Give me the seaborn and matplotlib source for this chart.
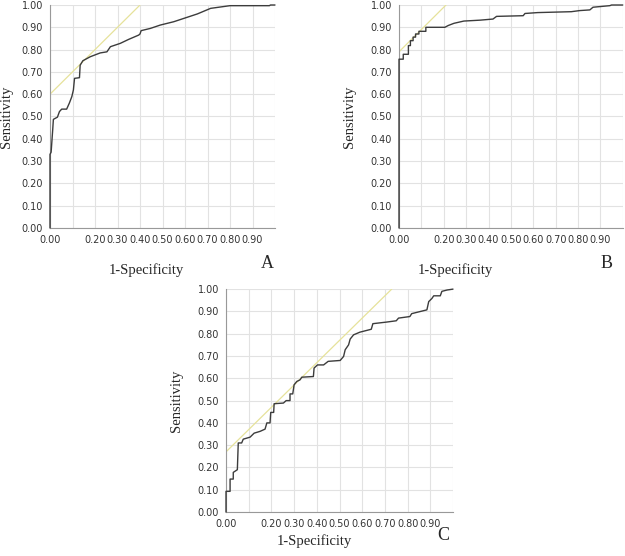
import numpy as np
import pandas as pd
import matplotlib
matplotlib.use("Agg")
import matplotlib.pyplot as plt
import seaborn as sns

# ROC curve A
a_fpr = [0, 0, 0.005, 0.012, 0.015, 0.033, 0.042, 0.052, 0.074, 0.086, 0.097, 0.104,
         0.109, 0.131, 0.134, 0.146, 0.179, 0.223, 0.253, 0.2685, 0.3125, 0.35, 0.394,
         0.40, 0.405, 0.446, 0.49, 0.55, 0.595, 0.655, 0.714, 0.80, 0.975, 0.98, 1.0]
a_tpr = [0, 0.33, 0.34, 0.44, 0.487, 0.497, 0.522, 0.533, 0.533, 0.56, 0.589, 0.619,
         0.671, 0.674, 0.73, 0.75, 0.768, 0.785, 0.79, 0.813, 0.828, 0.846, 0.865,
         0.870, 0.885, 0.895, 0.91, 0.925, 0.94, 0.96, 0.985, 0.997, 0.997, 1.0, 1.0]

# ROC curve B
b_fpr = [0, 0, 0.019, 0.019, 0.042, 0.042, 0.051, 0.051, 0.063, 0.063, 0.074, 0.074,
         0.089, 0.089, 0.12, 0.12, 0.205, 0.22, 0.246, 0.29, 0.362, 0.42, 0.436, 0.555,
         0.563, 0.62, 0.77, 0.808, 0.853, 0.867, 0.942, 0.95, 1.0]
b_tpr = [0, 0.757, 0.757, 0.779, 0.779, 0.818, 0.818, 0.84, 0.84, 0.856, 0.856, 0.87,
         0.87, 0.882, 0.882, 0.90, 0.90, 0.908, 0.918, 0.928, 0.932, 0.937, 0.949, 0.952,
         0.962, 0.966, 0.97, 0.975, 0.978, 0.99, 0.997, 1.0, 1.0]

# ROC curve C
c_fpr = [0, 0, 0.018, 0.018, 0.032, 0.032, 0.05, 0.054, 0.069, 0.076, 0.106, 0.124,
         0.15, 0.172, 0.18, 0.194, 0.197, 0.21, 0.212, 0.253, 0.265, 0.282, 0.282, 0.294,
         0.30, 0.312, 0.326, 0.334, 0.385, 0.388, 0.403, 0.43, 0.45, 0.503, 0.518, 0.525,
         0.54, 0.547, 0.562, 0.59, 0.64, 0.647, 0.706, 0.75, 0.76, 0.81, 0.818, 0.885,
         0.893, 0.907, 0.915, 0.944, 0.951, 0.974, 1.0]
c_tpr = [0, 0.093, 0.093, 0.148, 0.148, 0.178, 0.19, 0.31, 0.31, 0.327, 0.336, 0.354,
         0.362, 0.372, 0.40, 0.40, 0.447, 0.447, 0.486, 0.489, 0.50, 0.50, 0.53, 0.53,
         0.571, 0.586, 0.593, 0.605, 0.608, 0.646, 0.66, 0.66, 0.676, 0.68, 0.698, 0.728,
         0.75, 0.776, 0.795, 0.807, 0.82, 0.845, 0.852, 0.858, 0.87, 0.877, 0.89, 0.907,
         0.944, 0.958, 0.97, 0.97, 0.99, 0.996, 1.0]

# tangent (yellow) lines: intercept at x=0, reaching 1.0 at x_end
tangent_start = {'A': 0.60, 'B': 0.79, 'C': 0.27}
tangent_end = {'A': 0.40, 'B': 0.21, 'C': 0.73}

ticks = [0, 0.1, 0.2, 0.3, 0.4, 0.5, 0.6, 0.7, 0.8, 0.9, 1.0]
x_labels = ['0.00', '', '0.20', '0.30', '0.40', '0.50', '0.60', '0.70', '0.80', '0.90', '']
y_labels = ['0.00', '0.10', '0.20', '0.30', '0.40', '0.50', '0.60', '0.70', '0.80', '0.90', '1.00']

sns.set_style("white")
plt.rcParams['font.family'] = ['DejaVu Sans']

fig = plt.figure(figsize=(6.25, 5.56), dpi=100)

panels = {
    'A': ([0.08, 0.59, 0.36, 0.401], a_fpr, a_tpr, (0.43, -0.16), -0.165, (267, 264)),
    'B': ([0.6384, 0.59, 0.358, 0.401], b_fpr, b_tpr, (0.25, -0.16), -0.19, (607, 264)),
    'C': ([0.3616, 0.079, 0.3632, 0.401], c_fpr, c_tpr, (0.39, -0.10), -0.19, (443, 535)),
}

for name, (rect, fpr, tpr, xlab_pos, ylab_x, letter_pos) in panels.items():
    ax = fig.add_axes(rect)
    df = pd.DataFrame({'fpr': fpr, 'tpr': tpr})
    t0 = tangent_start[name]
    t1 = tangent_end[name]
    sns.lineplot(x=[0, t1], y=[t0, 1.0], ax=ax, color='#e6e29a', lw=0.9,
                 estimator=None, sort=False)
    sns.lineplot(data=df, x='fpr', y='tpr', ax=ax, color='#3c3c3c', lw=1.0,
                 estimator=None, sort=False, clip_on=False, zorder=5)
    ax.set_xlim(0, 1.0)
    ax.set_ylim(0, 1.0)
    ax.set_xticks(ticks)
    ax.set_xticklabels(x_labels)
    ax.set_yticks(ticks)
    ax.set_yticklabels(y_labels)
    ax.set_xticks(np.arange(0.05, 1.0, 0.1), minor=True)
    ax.set_yticks(np.arange(0.05, 1.0, 0.1), minor=True)
    ax.grid(True, which='major', color='#e2e2e2', lw=0.8)
    ax.tick_params(which='both', direction='out', color='#999999', labelsize=7,
                   labelcolor='#333333', pad=2)
    ax.tick_params(which='major', length=3, width=0.8)
    ax.tick_params(which='minor', length=2, width=0.6)
    for side in ['top', 'right']:
        ax.spines[side].set_visible(False)
    for side in ['left', 'bottom']:
        ax.spines[side].set_color('#999999')
        ax.spines[side].set_linewidth(0.8)
    ax.set_xlabel('1-Specificity', family='Liberation Serif', fontsize=10.5)
    ax.xaxis.set_label_coords(*xlab_pos)
    ax.set_ylabel('Sensitivity', family='Liberation Serif', fontsize=10.5)
    ax.yaxis.set_label_coords(ylab_x, 0.5)
    fig.text(letter_pos[0] / 625, 1 - letter_pos[1] / 556, name,
             family='Liberation Serif', fontsize=13, ha='center', va='center')

fig.savefig('out.png', dpi=100)
